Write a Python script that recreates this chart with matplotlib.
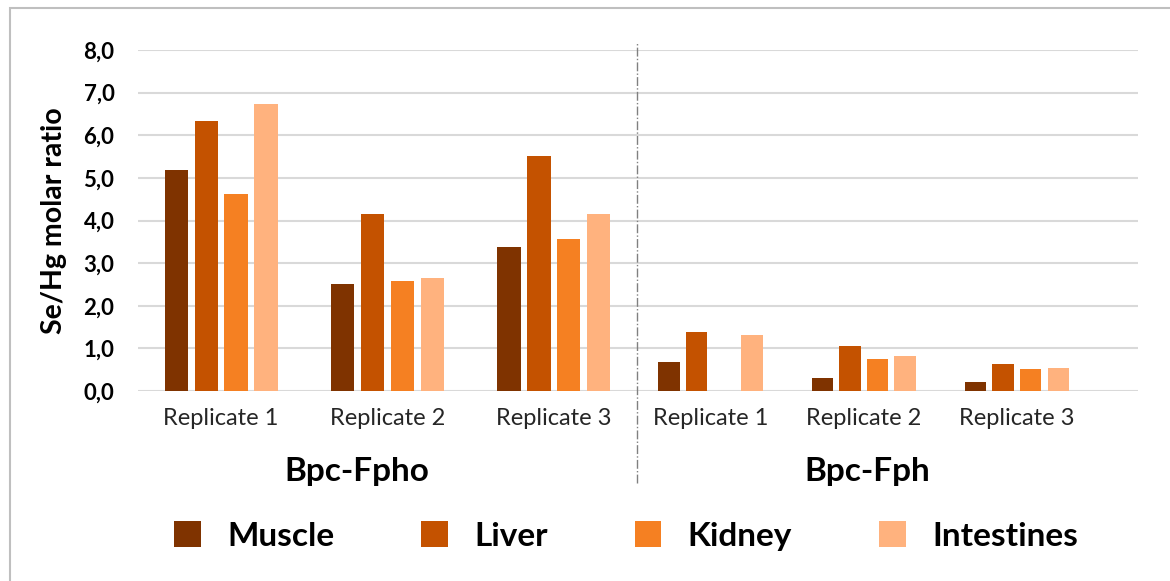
import matplotlib.pyplot as plt
import numpy as np
from matplotlib.patches import Patch, Rectangle
from matplotlib.lines import Line2D

plt.rcParams['font.family'] = ['Lato', 'DejaVu Sans']

tissues = ['Muscle', 'Liver', 'Kidney', 'Intestines']
colors = ['#7F3300', '#C45200', '#F58022', '#FFB27E']
replicates = ['Replicate 1', 'Replicate 2', 'Replicate 3']
groups = ['Bpc-Fpho', 'Bpc-Fph']

# Se/Hg molar ratio, rows = tissue, cols = replicate
fpho = np.array([
    [5.19, 2.52, 3.37],
    [6.34, 4.15, 5.52],
    [4.62, 2.58, 3.57],
    [6.74, 2.65, 4.15],
])
fph = np.array([
    [0.68, 0.31, 0.21],
    [1.38, 1.06, 0.63],
    [0.00, 0.75, 0.52],
    [1.31, 0.82, 0.54],
])

W, H = 1170, 581
fig = plt.figure(figsize=(W / 100, H / 100), dpi=100)

# outer frame of the chart
fig.patches.append(Rectangle((10 / W, -0.1), 1.2, 1 - 8 / H + 0.1, transform=fig.transFigure,
                             fill=False, edgecolor='#bfbfbf', lw=1.5))

bottom = (H - 391) / H
height = 341 / H
ax1 = fig.add_axes([138 / W, bottom, 499 / W, height])
ax2 = fig.add_axes([637 / W, bottom, 501 / W, height])

x = np.arange(len(replicates))
bw = 0.14
step = 0.18
for ax, data in [(ax1, fpho), (ax2, fph)]:
    for i, t in enumerate(tissues):
        ax.bar(x + (i - 1.5) * step, data[i], width=bw, color=colors[i], zorder=3)
    ax.set_ylim(0, 8)
    ax.set_yticks(np.arange(0, 9, 1))
    ax.yaxis.grid(True, color='#d9d9d9', lw=1.5, zorder=0)
    for s in ax.spines.values():
        s.set_visible(False)
    ax.tick_params(length=0)
    ax.set_xticks(x)
    ax.set_xticklabels(replicates, fontsize=17, color='#262626')
    ax.tick_params(axis='x', pad=12)

ax1.set_xlim(-0.5, 2.5)
ax2.set_xlim(-0.48, 2.79)
ax1.set_yticklabels([f'{v:.1f}'.replace('.', ',') for v in np.arange(0, 9, 1)],
                    fontsize=16, fontweight='bold')
ax1.tick_params(axis='y', pad=17)
ax2.set_yticklabels([])
ax1.set_ylabel('Se/Hg molar ratio', fontsize=20.5, fontweight='bold', labelpad=12)

# dashed divider between the two groups
fig.add_artist(Line2D([637 / W, 637 / W], [(H - 483) / H, (H - 42) / H], transform=fig.transFigure,
                      color='#808080', lw=1, ls='-.'))

fig.text(357 / W, (H - 472) / H, groups[0], ha='center', va='center', fontsize=24, fontweight='bold')
fig.text(867 / W, (H - 472) / H, groups[1], ha='center', va='center', fontsize=24, fontweight='bold')

handles = [Patch(facecolor=c, edgecolor='none') for c in colors]
leg = fig.legend(handles, tissues, loc='center', bbox_to_anchor=(626 / W, (H - 536) / H),
                 ncol=4, frameon=False, handlelength=0.8, handleheight=0.8,
                 handletextpad=0.8, columnspacing=2.6,
                 prop={'size': 24, 'weight': 'bold'})

fig.savefig('out.png', dpi=100)
